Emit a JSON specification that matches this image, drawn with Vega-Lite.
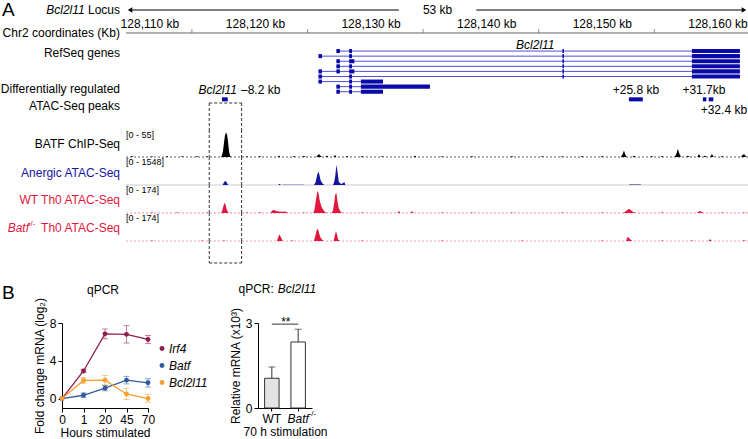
{
"$schema":"https://vega.github.io/schema/vega-lite/v6.json",
"background":"white",
"padding":{"left":0,"top":0,"right":0,"bottom":0},
"config":{
 "font":"Liberation Sans",
 "view":{"stroke":null},
 "axis":{"grid":false,"domainColor":"#000","tickColor":"#000","labelColor":"#000","titleColor":"#000","labelFontSize":12,"titleFontSize":12,"titleFontWeight":"normal","tickSize":4,"labelPadding":2,"domainWidth":1,"tickWidth":1},
 "text":{"fontSize":12,"color":"#000"}
},
"datasets":{
 "ruler_labels":[{"kb":128110,"label":"128,110 kb"},{"kb":128120,"label":"128,120 kb"},{"kb":128130,"label":"128,130 kb"},{"kb":128140,"label":"128,140 kb"},{"kb":128150,"label":"128,150 kb"},{"kb":128160,"label":"128,160 kb"}],
 "ruler_ticks":[{"kb":128114.5},{"kb":128124.5},{"kb":128134.5},{"kb":128144.5},{"kb":128154.5}],
 "transcripts":[
  {"tx":"T1","start":128127.0,"end":128161.9},{"tx":"T2","start":128125.45,"end":128161.9},{"tx":"T3","start":128127.0,"end":128161.9},
  {"tx":"T4","start":128127.0,"end":128161.9},{"tx":"T5","start":128125.45,"end":128161.9},{"tx":"T6","start":128125.45,"end":128161.9},
  {"tx":"T7","start":128125.45,"end":128131.03},{"tx":"T8","start":128127.0,"end":128135.09},{"tx":"T9","start":128127.0,"end":128131.03}],
 "exons":[
  {"tx":"T1","start":128127.0,"end":128127.3},{"tx":"T1","start":128128.1,"end":128128.35},{"tx":"T1","start":128146.55,"end":128146.68},{"tx":"T1","start":128157.75,"end":128161.9},
  {"tx":"T2","start":128125.45,"end":128125.75},{"tx":"T2","start":128128.1,"end":128128.35},{"tx":"T2","start":128146.55,"end":128146.68},{"tx":"T2","start":128157.75,"end":128161.9},
  {"tx":"T3","start":128127.0,"end":128127.3},{"tx":"T3","start":128128.1,"end":128128.55},{"tx":"T3","start":128146.55,"end":128146.68},{"tx":"T3","start":128157.75,"end":128161.9},
  {"tx":"T4","start":128127.0,"end":128127.3},{"tx":"T4","start":128128.1,"end":128128.35},{"tx":"T4","start":128146.55,"end":128146.68},{"tx":"T4","start":128157.75,"end":128161.9},
  {"tx":"T5","start":128125.45,"end":128125.75},{"tx":"T5","start":128127.0,"end":128127.3},{"tx":"T5","start":128128.1,"end":128128.55},{"tx":"T5","start":128146.55,"end":128146.68},{"tx":"T5","start":128157.75,"end":128161.9},
  {"tx":"T6","start":128125.45,"end":128125.75},{"tx":"T6","start":128128.1,"end":128128.35},{"tx":"T6","start":128146.55,"end":128146.68},{"tx":"T6","start":128157.75,"end":128161.9},
  {"tx":"T7","start":128125.45,"end":128125.75},{"tx":"T7","start":128128.1,"end":128128.35},{"tx":"T7","start":128129.12,"end":128131.03},
  {"tx":"T8","start":128127.0,"end":128127.3},{"tx":"T8","start":128128.1,"end":128128.35},{"tx":"T8","start":128129.12,"end":128135.09},
  {"tx":"T9","start":128127.0,"end":128127.3},{"tx":"T9","start":128128.1,"end":128128.35},{"tx":"T9","start":128129.12,"end":128131.03}],
 "peaks":[{"name":"-8.2","start":128117.1,"end":128117.6},{"name":"+25.8","start":128152.3,"end":128153.5},{"name":"+31.7","start":128158.7,"end":128159.0},{"name":"+32.4","start":128159.2,"end":128159.6}],
 "box":[{"start":128116.0,"end":128118.8}],
 "batf_chip":[
  {"kb":128108.8,"v":0},
  {"kb":128109.19,"v":0},{"kb":128109.32,"v":2},{"kb":128109.45,"v":0},
  {"kb":128110.92,"v":0},{"kb":128111.05,"v":1.5},{"kb":128111.18,"v":0},
  {"kb":128112.22,"v":0},{"kb":128112.35,"v":2},{"kb":128112.48,"v":0},
  {"kb":128113.51,"v":0},{"kb":128113.64,"v":1.5},{"kb":128113.77,"v":0},
  {"kb":128114.81,"v":0},{"kb":128114.94,"v":2},{"kb":128115.07,"v":0},
  {"kb":128115.68,"v":0},{"kb":128115.81,"v":1.5},{"kb":128115.94,"v":0},
  {"kb":128117.0,"v":0},{"kb":128117.1,"v":3},{"kb":128117.19,"v":12},{"kb":128117.28,"v":30},{"kb":128117.36,"v":44},{"kb":128117.45,"v":50},{"kb":128117.54,"v":46},{"kb":128117.62,"v":32},{"kb":128117.71,"v":12},{"kb":128117.79,"v":3},{"kb":128117.9,"v":0},
  {"kb":128119.13,"v":0},{"kb":128119.26,"v":1.5},{"kb":128119.39,"v":0},
  {"kb":128120.26,"v":0},{"kb":128120.39,"v":2},{"kb":128120.52,"v":0},
  {"kb":128121.9,"v":0},{"kb":128122.03,"v":3},{"kb":128122.16,"v":0},
  {"kb":128123.2,"v":0},{"kb":128123.33,"v":2},{"kb":128123.46,"v":0},
  {"kb":128124.06,"v":0},{"kb":128124.19,"v":2.5},{"kb":128124.32,"v":0},
  {"kb":128125.25,"v":0},{"kb":128125.4,"v":4},{"kb":128125.49,"v":6},{"kb":128125.6,"v":3},{"kb":128125.75,"v":0},
  {"kb":128126.05,"v":0},{"kb":128126.18,"v":3},{"kb":128126.31,"v":0},
  {"kb":128126.75,"v":0},{"kb":128126.88,"v":4},{"kb":128127.01,"v":0},
  {"kb":128127.78,"v":0},{"kb":128127.91,"v":2},{"kb":128128.04,"v":0},
  {"kb":128129.08,"v":0},{"kb":128129.21,"v":2},{"kb":128129.34,"v":0},
  {"kb":128130.81,"v":0},{"kb":128130.94,"v":1.5},{"kb":128131.07,"v":0},
  {"kb":128133.66,"v":0},{"kb":128133.79,"v":3},{"kb":128133.92,"v":0},
  {"kb":128136.0,"v":0},{"kb":128136.13,"v":1.5},{"kb":128136.26,"v":0},
  {"kb":128138.59,"v":0},{"kb":128138.72,"v":2},{"kb":128138.85,"v":0},
  {"kb":128142.05,"v":0},{"kb":128142.18,"v":2},{"kb":128142.31,"v":0},
  {"kb":128144.65,"v":0},{"kb":128144.78,"v":1.5},{"kb":128144.91,"v":0},
  {"kb":128146.38,"v":0},{"kb":128146.51,"v":1.5},{"kb":128146.64,"v":0},
  {"kb":128148.11,"v":0},{"kb":128148.24,"v":2},{"kb":128148.37,"v":0},
  {"kb":128149.84,"v":0},{"kb":128149.97,"v":2},{"kb":128150.1,"v":0},
  {"kb":128151.6,"v":0},{"kb":128151.75,"v":5},{"kb":128151.87,"v":13},{"kb":128151.97,"v":6},{"kb":128152.1,"v":0},
  {"kb":128152.61,"v":0},{"kb":128152.74,"v":3},{"kb":128152.87,"v":0},
  {"kb":128154.16,"v":0},{"kb":128154.29,"v":2},{"kb":128154.42,"v":0},
  {"kb":128155.03,"v":0},{"kb":128155.16,"v":2},{"kb":128155.29,"v":0},
  {"kb":128156.25,"v":0},{"kb":128156.4,"v":6},{"kb":128156.54,"v":17},{"kb":128156.64,"v":8},{"kb":128156.8,"v":0},
  {"kb":128157.28,"v":0},{"kb":128157.41,"v":3},{"kb":128157.54,"v":0},
  {"kb":128158.21,"v":0},{"kb":128158.36,"v":6},{"kb":128158.51,"v":0},
  {"kb":128158.75,"v":0},{"kb":128158.88,"v":3},{"kb":128159.01,"v":0},
  {"kb":128159.33,"v":0},{"kb":128159.48,"v":6},{"kb":128159.63,"v":0},
  {"kb":128160.22,"v":0},{"kb":128160.35,"v":2},{"kb":128160.48,"v":0},
  {"kb":128162.0,"v":0},{"kb":128162.15,"v":5},{"kb":128162.3,"v":5},{"kb":128162.45,"v":0},
  {"kb":128162.6,"v":0}],
 "anergic":[
  {"kb":128108.8,"v":0},
  {"kb":128117.15,"v":0},{"kb":128117.25,"v":110},{"kb":128117.36,"v":220},{"kb":128117.45,"v":200},{"kb":128117.55,"v":90},{"kb":128117.65,"v":0},
  {"kb":128121.95,"v":0},{"kb":128122.08,"v":70},{"kb":128122.2,"v":0},
  {"kb":128122.3,"v":0},{"kb":128122.35,"v":15},{"kb":128124.2,"v":15},{"kb":128124.25,"v":0},
  {"kb":128125.05,"v":0},{"kb":128125.2,"v":150},{"kb":128125.32,"v":500},{"kb":128125.42,"v":740},{"kb":128125.52,"v":600},{"kb":128125.64,"v":250},{"kb":128125.8,"v":80},{"kb":128125.95,"v":0},
  {"kb":128126.7,"v":0},{"kb":128126.8,"v":150},{"kb":128126.9,"v":500},{"kb":128127.0,"v":1120},{"kb":128127.1,"v":700},{"kb":128127.2,"v":200},{"kb":128127.31,"v":100},{"kb":128127.45,"v":60},{"kb":128127.6,"v":120},{"kb":128127.68,"v":170},{"kb":128127.78,"v":0},
  {"kb":128152.3,"v":0},{"kb":128152.33,"v":30},{"kb":128153.3,"v":30},{"kb":128153.35,"v":0},
  {"kb":128162.6,"v":0}],
 "wt_th0":[
  {"kb":128108.8,"v":0},
  {"kb":128110.92,"v":0},{"kb":128111.05,"v":4},{"kb":128111.18,"v":0},
  {"kb":128113.08,"v":0},{"kb":128113.21,"v":4},{"kb":128113.34,"v":0},
  {"kb":128115.68,"v":0},{"kb":128115.81,"v":3},{"kb":128115.94,"v":0},
  {"kb":128117.0,"v":0},{"kb":128117.1,"v":10},{"kb":128117.2,"v":35},{"kb":128117.3,"v":62},{"kb":128117.4,"v":55},{"kb":128117.5,"v":25},{"kb":128117.6,"v":8},{"kb":128117.7,"v":0},
  {"kb":128119.13,"v":0},{"kb":128119.26,"v":4},{"kb":128119.39,"v":0},
  {"kb":128120.26,"v":0},{"kb":128120.39,"v":4},{"kb":128120.52,"v":0},
  {"kb":128121.3,"v":0},{"kb":128121.45,"v":15},{"kb":128121.6,"v":19},{"kb":128121.8,"v":12},{"kb":128122.0,"v":10},{"kb":128122.3,"v":8},{"kb":128122.6,"v":10},{"kb":128122.8,"v":0},
  {"kb":128124.06,"v":0},{"kb":128124.19,"v":5},{"kb":128124.32,"v":0},
  {"kb":128125.0,"v":0},{"kb":128125.1,"v":20},{"kb":128125.25,"v":90},{"kb":128125.35,"v":137},{"kb":128125.45,"v":125},{"kb":128125.55,"v":80},{"kb":128125.7,"v":40},{"kb":128125.85,"v":20},{"kb":128126.0,"v":8},{"kb":128126.15,"v":0},
  {"kb":128126.6,"v":0},{"kb":128126.7,"v":15},{"kb":128126.8,"v":60},{"kb":128126.9,"v":115},{"kb":128127.0,"v":125},{"kb":128127.1,"v":70},{"kb":128127.2,"v":30},{"kb":128127.35,"v":10},{"kb":128127.5,"v":0},
  {"kb":128129.08,"v":0},{"kb":128129.21,"v":4},{"kb":128129.34,"v":0},
  {"kb":128132.28,"v":0},{"kb":128132.41,"v":12},{"kb":128132.54,"v":0},
  {"kb":128133.41,"v":0},{"kb":128133.54,"v":12},{"kb":128133.67,"v":0},
  {"kb":128136.0,"v":0},{"kb":128136.13,"v":4},{"kb":128136.26,"v":0},
  {"kb":128138.59,"v":0},{"kb":128138.72,"v":4},{"kb":128138.85,"v":0},
  {"kb":128142.05,"v":0},{"kb":128142.18,"v":4},{"kb":128142.31,"v":0},
  {"kb":128146.38,"v":0},{"kb":128146.51,"v":4},{"kb":128146.64,"v":0},
  {"kb":128149.84,"v":0},{"kb":128149.97,"v":5},{"kb":128150.1,"v":0},
  {"kb":128151.8,"v":0},{"kb":128152.0,"v":10},{"kb":128152.2,"v":22},{"kb":128152.35,"v":25},{"kb":128152.5,"v":15},{"kb":128152.7,"v":5},{"kb":128152.9,"v":0},
  {"kb":128155.03,"v":0},{"kb":128155.16,"v":4},{"kb":128155.29,"v":0},
  {"kb":128158.2,"v":0},{"kb":128158.35,"v":10},{"kb":128158.45,"v":12},{"kb":128158.6,"v":6},{"kb":128158.75,"v":0},
  {"kb":128160.22,"v":0},{"kb":128160.35,"v":4},{"kb":128160.48,"v":0},
  {"kb":128162.12,"v":0},{"kb":128162.25,"v":4},{"kb":128162.38,"v":0},
  {"kb":128162.6,"v":0}],
 "ko_th0":[
  {"kb":128108.8,"v":0},
  {"kb":128110.92,"v":0},{"kb":128111.05,"v":5},{"kb":128111.18,"v":0},
  {"kb":128115.24,"v":0},{"kb":128115.37,"v":4},{"kb":128115.5,"v":0},
  {"kb":128117.15,"v":0},{"kb":128117.28,"v":5},{"kb":128117.41,"v":0},
  {"kb":128121.85,"v":0},{"kb":128121.95,"v":20},{"kb":128122.05,"v":40},{"kb":128122.15,"v":30},{"kb":128122.25,"v":15},{"kb":128122.35,"v":0},
  {"kb":128123.03,"v":0},{"kb":128123.16,"v":5},{"kb":128123.29,"v":0},
  {"kb":128125.05,"v":0},{"kb":128125.15,"v":25},{"kb":128125.3,"v":70},{"kb":128125.4,"v":75},{"kb":128125.5,"v":50},{"kb":128125.6,"v":25},{"kb":128125.75,"v":10},{"kb":128125.9,"v":0},
  {"kb":128126.75,"v":0},{"kb":128126.85,"v":30},{"kb":128126.96,"v":62},{"kb":128127.05,"v":40},{"kb":128127.15,"v":10},{"kb":128127.3,"v":0},
  {"kb":128129.08,"v":0},{"kb":128129.21,"v":4},{"kb":128129.34,"v":0},
  {"kb":128136.0,"v":0},{"kb":128136.13,"v":4},{"kb":128136.26,"v":0},
  {"kb":128142.92,"v":0},{"kb":128143.05,"v":4},{"kb":128143.18,"v":0},
  {"kb":128149.84,"v":0},{"kb":128149.97,"v":4},{"kb":128150.1,"v":0},
  {"kb":128152.05,"v":0},{"kb":128152.15,"v":20},{"kb":128152.22,"v":25},{"kb":128152.35,"v":15},{"kb":128152.5,"v":5},{"kb":128152.6,"v":0},
  {"kb":128155.03,"v":0},{"kb":128155.16,"v":5},{"kb":128155.29,"v":0},
  {"kb":128157.62,"v":0},{"kb":128157.75,"v":4},{"kb":128157.88,"v":0},
  {"kb":128159.18,"v":0},{"kb":128159.31,"v":12},{"kb":128159.44,"v":0},
  {"kb":128162.12,"v":0},{"kb":128162.25,"v":6},{"kb":128162.38,"v":0},
  {"kb":128162.6,"v":0}],
 "qpcr":[
  {"gene":"Irf4","hours":0,"mean":0,"low":0,"high":0},{"gene":"Irf4","hours":1,"mean":2.92,"low":2.75,"high":3.1},{"gene":"Irf4","hours":20,"mean":6.85,"low":6.33,"high":7.37},{"gene":"Irf4","hours":45,"mean":6.8,"low":5.88,"high":7.72},{"gene":"Irf4","hours":70,"mean":6.26,"low":5.82,"high":6.68},
  {"gene":"Batf","hours":0,"mean":0,"low":0,"high":0},{"gene":"Batf","hours":1,"mean":0.35,"low":0.1,"high":0.6},{"gene":"Batf","hours":20,"mean":1.1,"low":0.82,"high":1.38},{"gene":"Batf","hours":45,"mean":1.95,"low":1.55,"high":2.35},{"gene":"Batf","hours":70,"mean":1.67,"low":1.22,"high":2.1},
  {"gene":"Bcl2l11","hours":0,"mean":0,"low":0,"high":0},{"gene":"Bcl2l11","hours":1,"mean":1.91,"low":1.6,"high":2.22},{"gene":"Bcl2l11","hours":20,"mean":1.95,"low":1.46,"high":2.44},{"gene":"Bcl2l11","hours":45,"mean":0.49,"low":-0.1,"high":1.08},{"gene":"Bcl2l11","hours":70,"mean":0.0,"low":-0.38,"high":0.42}],
 "bars":[{"genotype":"WT","mean":1.05,"upper":1.45},{"genotype":"Batf-/-","mean":2.33,"upper":2.78}]
},
"spacing":19,
"vconcat":[
 {"spacing":0,"bounds":"flush","vconcat":[
  {"width":686,"height":43,"layer":[
   {"data":{"values":[{}]},"mark":{"type":"rule","color":"#000","strokeWidth":1},"encoding":{"x":{"datum":128109.3,"type":"quantitative","scale":{"domain":[128108.8,128162.6],"range":[64,686],"nice":false,"zero":false},"axis":null},"x2":{"datum":128132.4},"y":{"datum":"locus","type":"nominal","scale":{"type":"point","domain":["locus","ruler"],"padding":0.4348},"axis":null}}},
   {"data":{"values":[{}]},"mark":{"type":"rule","color":"#000","strokeWidth":1},"encoding":{"x":{"datum":128139.1,"type":"quantitative","axis":null},"x2":{"datum":128162.1},"y":{"datum":"locus","type":"nominal","axis":null}}},
   {"data":{"values":[{}]},"mark":{"type":"point","shape":"triangle-left","filled":true,"color":"#000","size":28,"opacity":1},"encoding":{"x":{"datum":128109.15,"type":"quantitative","axis":null},"y":{"datum":"locus","type":"nominal","axis":null}}},
   {"data":{"values":[{}]},"mark":{"type":"point","shape":"triangle-right","filled":true,"color":"#000","size":28,"opacity":1},"encoding":{"x":{"datum":128162.25,"type":"quantitative","axis":null},"y":{"datum":"locus","type":"nominal","axis":null}}},
   {"data":{"values":[{}]},"mark":{"type":"text","text":"53 kb","baseline":"middle"},"encoding":{"x":{"datum":128135.75,"type":"quantitative","axis":null},"y":{"datum":"locus","type":"nominal","axis":null}}},
   {"data":{"values":[{}]},"mark":{"type":"rule","color":"#666"},"encoding":{"x":{"datum":128108.8,"type":"quantitative","axis":null},"x2":{"datum":128162.6},"y":{"datum":"ruler","type":"nominal","axis":null}}},
   {"data":{"name":"ruler_ticks"},"mark":{"type":"tick","size":4,"thickness":1,"color":"#666","yOffset":-2},"encoding":{"x":{"field":"kb","type":"quantitative","axis":null},"y":{"datum":"ruler","type":"nominal","axis":null}}},
   {"data":{"name":"ruler_labels"},"transform":[{"filter":"datum.kb > 128110"}],"mark":{"type":"text","dy":-9,"baseline":"middle"},"encoding":{"x":{"field":"kb","type":"quantitative","axis":null},"y":{"datum":"ruler","type":"nominal","axis":null},"text":{"field":"label"}}},
   {"data":{"name":"ruler_labels"},"transform":[{"filter":"datum.kb == 128110"}],"mark":{"type":"text","dy":-9,"dx":10,"baseline":"middle"},"encoding":{"x":{"field":"kb","type":"quantitative","axis":null},"y":{"datum":"ruler","type":"nominal","axis":null},"text":{"field":"label"}}},
   {"data":{"values":[{}]},"mark":{"type":"text","text":"A","fontSize":19,"align":"left","baseline":"middle","dx":-124},"encoding":{"x":{"datum":128108.8,"type":"quantitative","axis":null},"y":{"datum":"locus","type":"nominal","axis":null}}},
   {"data":{"values":[{}]},"mark":{"type":"text","text":"Bcl2l11","fontStyle":"italic","align":"right","baseline":"middle","dx":-41.3},"encoding":{"x":{"datum":128108.8,"type":"quantitative","axis":null},"y":{"datum":"locus","type":"nominal","axis":null}}},
   {"data":{"values":[{}]},"mark":{"type":"text","text":"Locus","align":"right","baseline":"middle","dx":-6},"encoding":{"x":{"datum":128108.8,"type":"quantitative","axis":null},"y":{"datum":"locus","type":"nominal","axis":null}}},
   {"data":{"values":[{}]},"mark":{"type":"text","text":"Chr2 coordinates (Kb)","align":"right","baseline":"middle","dx":-6},"encoding":{"x":{"datum":128108.8,"type":"quantitative","axis":null},"y":{"datum":"ruler","type":"nominal","axis":null}}}
  ]},
  {"width":686,"height":60,"layer":[
   {"data":{"name":"transcripts"},"mark":{"type":"rule","color":"#3a3ad6","strokeWidth":0.9},"encoding":{"x":{"field":"start","type":"quantitative","scale":{"domain":[128108.8,128162.6],"range":[64,686],"nice":false,"zero":false},"axis":null},"x2":{"field":"end"},"y":{"field":"tx","type":"nominal","bandPosition":0.5,"scale":{"type":"band","domain":["T1","T2","T3","T4","T5","T6","T7","T8","T9","Peaks"],"paddingInner":0.2,"paddingOuter":1.843,"align":0.593},"axis":null}}},
   {"data":{"name":"exons"},"mark":{"type":"rect","color":"#0a0aa8"},"encoding":{"x":{"field":"start","type":"quantitative","axis":null},"x2":{"field":"end"},"y":{"field":"tx","type":"nominal","axis":null}}},
   {"data":{"name":"peaks"},"mark":{"type":"rect","color":"#0a0aa8","yOffset":2.5,"y2Offset":2.5},"encoding":{"x":{"field":"start","type":"quantitative","axis":null},"x2":{"field":"end"},"y":{"datum":"Peaks","type":"nominal","axis":null}}},
   {"data":{"name":"peaks"},"transform":[{"filter":"datum.name == '-8.2'"}],"mark":{"type":"text","text":"Bcl2l11","fontStyle":"italic","align":"right","baseline":"middle","dx":15,"dy":-6.5},"encoding":{"x":{"field":"start","type":"quantitative","axis":null},"y":{"datum":"Peaks","type":"nominal","bandPosition":0.5,"axis":null}}},
   {"data":{"name":"peaks"},"transform":[{"filter":"datum.name == '-8.2'"}],"mark":{"type":"text","text":"–8.2 kb","align":"left","baseline":"middle","dx":19,"dy":-6.5},"encoding":{"x":{"field":"start","type":"quantitative","axis":null},"y":{"datum":"Peaks","type":"nominal","bandPosition":0.5,"axis":null}}},
   {"data":{"name":"peaks"},"transform":[{"filter":"datum.name == '+25.8'"}],"mark":{"type":"text","text":"+25.8 kb","align":"center","baseline":"middle","dx":7,"dy":-6.5},"encoding":{"x":{"field":"start","type":"quantitative","axis":null},"y":{"datum":"Peaks","type":"nominal","bandPosition":0.5,"axis":null}}},
   {"data":{"name":"peaks"},"transform":[{"filter":"datum.name == '+31.7'"}],"mark":{"type":"text","text":"+31.7kb","align":"center","baseline":"middle","dx":1,"dy":-6.5},"encoding":{"x":{"field":"start","type":"quantitative","axis":null},"y":{"datum":"Peaks","type":"nominal","bandPosition":0.5,"axis":null}}},
   {"data":{"name":"peaks"},"transform":[{"filter":"datum.name == '+32.4'"}],"mark":{"type":"text","text":"+32.4 kb","align":"left","baseline":"middle","dx":-8,"dy":13.5},"encoding":{"x":{"field":"start","type":"quantitative","axis":null},"y":{"datum":"Peaks","type":"nominal","bandPosition":0.5,"axis":null}}},
   {"data":{"values":[{}]},"mark":{"type":"text","text":"Bcl2l11","fontStyle":"italic","baseline":"middle","dy":-6.5},"encoding":{"x":{"datum":128144.2,"type":"quantitative","axis":null},"y":{"datum":"T1","type":"nominal","bandPosition":0.5,"axis":null}}},
   {"data":{"values":[{}]},"mark":{"type":"text","text":"RefSeq genes","align":"right","baseline":"middle","dx":-6,"dy":1.5},"encoding":{"x":{"datum":128108.8,"type":"quantitative","axis":null},"y":{"datum":"T1","type":"nominal","bandPosition":0.5,"axis":null}}},
   {"data":{"values":[{}]},"mark":{"type":"text","text":["Differentially regulated","ATAC-Seq peaks"],"lineHeight":17,"align":"right","baseline":"middle","dx":-6,"dy":-8},"encoding":{"x":{"datum":128108.8,"type":"quantitative","axis":null},"y":{"datum":"Peaks","type":"nominal","bandPosition":0.5,"axis":null}}}
  ]},
  {"width":686,"height":27,"data":{"name":"box"},"layer":[
   {"mark":{"type":"rule","color":"#333","strokeDash":[3,2]},"encoding":{"x":{"field":"start","type":"quantitative","scale":{"domain":[128108.8,128162.6],"range":[64,686],"nice":false,"zero":false},"axis":null}}},
   {"mark":{"type":"rule","color":"#333","strokeDash":[3,2]},"encoding":{"x":{"field":"end","type":"quantitative","axis":null}}},
   {"mark":{"type":"rule","color":"#333","strokeDash":[3,2]},"encoding":{"x":{"field":"start","type":"quantitative","axis":null},"x2":{"field":"end"},"y":{"datum":1,"type":"quantitative","scale":{"domain":[0,1]},"axis":null}}}
  ]},
  {"width":686,"height":27,"layer":[
   {"data":{"values":[{}]},"mark":{"type":"rule","color":"#333","strokeDash":[2,2],"opacity":0.8},"encoding":{"x":{"datum":128108.8,"type":"quantitative","scale":{"domain":[128108.8,128162.6],"range":[64,686],"nice":false,"zero":false},"axis":null},"x2":{"datum":128162.6},"y":{"datum":0,"type":"quantitative","scale":{"domain":[0,55],"nice":false},"axis":null}}},
   {"data":{"name":"batf_chip"},"mark":{"type":"area","color":"#000","interpolate":"linear"},"encoding":{"x":{"field":"kb","type":"quantitative","axis":null},"y":{"field":"v","type":"quantitative","axis":null}}},
   {"data":{"name":"box"},"mark":{"type":"rule","color":"#333","strokeDash":[3,2]},"encoding":{"x":{"field":"start","type":"quantitative","axis":null}}},
   {"data":{"name":"box"},"mark":{"type":"rule","color":"#333","strokeDash":[3,2]},"encoding":{"x":{"field":"end","type":"quantitative","axis":null}}},
   {"data":{"values":[{}]},"mark":{"type":"text","text":"[0 - 55]","color":"#000","align":"left","baseline":"middle","fontSize":9,"dy":5},"encoding":{"x":{"datum":128108.8,"type":"quantitative","axis":null},"y":{"datum":55,"type":"quantitative","axis":null}}},
   {"data":{"values":[{}]},"mark":{"type":"text","text":"BATF ChIP-Seq","color":"#000","align":"right","baseline":"middle","dx":-6,"dy":0.5},"encoding":{"x":{"datum":128108.8,"type":"quantitative","axis":null}}}
  ]},
  {"width":686,"height":28,"layer":[
   {"data":{"values":[{}]},"mark":{"type":"rule","color":"#cccccc"},"encoding":{"x":{"datum":128108.8,"type":"quantitative","scale":{"domain":[128108.8,128162.6],"range":[64,686],"nice":false,"zero":false},"axis":null},"x2":{"datum":128162.6},"y":{"datum":0,"type":"quantitative","scale":{"domain":[0,1548],"nice":false},"axis":null}}},
   {"data":{"name":"anergic"},"mark":{"type":"area","color":"#14149e","interpolate":"linear"},"encoding":{"x":{"field":"kb","type":"quantitative","axis":null},"y":{"field":"v","type":"quantitative","axis":null}}},
   {"data":{"name":"box"},"mark":{"type":"rule","color":"#333","strokeDash":[3,2]},"encoding":{"x":{"field":"start","type":"quantitative","axis":null}}},
   {"data":{"name":"box"},"mark":{"type":"rule","color":"#333","strokeDash":[3,2]},"encoding":{"x":{"field":"end","type":"quantitative","axis":null}}},
   {"data":{"values":[{}]},"mark":{"type":"text","text":"[0 - 1548]","color":"#000","align":"left","baseline":"middle","fontSize":9,"dy":5},"encoding":{"x":{"datum":128108.8,"type":"quantitative","axis":null},"y":{"datum":1548,"type":"quantitative","axis":null}}},
   {"data":{"values":[{}]},"mark":{"type":"text","text":"Anergic ATAC-Seq","color":"#14149e","align":"right","baseline":"middle","dx":-6,"dy":2},"encoding":{"x":{"datum":128108.8,"type":"quantitative","axis":null}}}
  ]},
  {"width":686,"height":28,"layer":[
   {"data":{"values":[{}]},"mark":{"type":"rule","color":"#e3173e","strokeDash":[2,2],"opacity":0.5},"encoding":{"x":{"datum":128108.8,"type":"quantitative","scale":{"domain":[128108.8,128162.6],"range":[64,686],"nice":false,"zero":false},"axis":null},"x2":{"datum":128162.6},"y":{"datum":0,"type":"quantitative","scale":{"domain":[0,174],"nice":false},"axis":null}}},
   {"data":{"name":"wt_th0"},"mark":{"type":"area","color":"#e3173e","interpolate":"linear"},"encoding":{"x":{"field":"kb","type":"quantitative","axis":null},"y":{"field":"v","type":"quantitative","axis":null}}},
   {"data":{"name":"box"},"mark":{"type":"rule","color":"#333","strokeDash":[3,2]},"encoding":{"x":{"field":"start","type":"quantitative","axis":null}}},
   {"data":{"name":"box"},"mark":{"type":"rule","color":"#333","strokeDash":[3,2]},"encoding":{"x":{"field":"end","type":"quantitative","axis":null}}},
   {"data":{"values":[{}]},"mark":{"type":"text","text":"[0 - 174]","color":"#000","align":"left","baseline":"middle","fontSize":9,"dy":5},"encoding":{"x":{"datum":128108.8,"type":"quantitative","axis":null},"y":{"datum":174,"type":"quantitative","axis":null}}},
   {"data":{"values":[{}]},"mark":{"type":"text","text":"WT Th0 ATAC-Seq","color":"#e3173e","align":"right","baseline":"middle","dx":-6,"dy":1},"encoding":{"x":{"datum":128108.8,"type":"quantitative","axis":null}}}
  ]},
  {"width":686,"height":28,"layer":[
   {"data":{"values":[{}]},"mark":{"type":"rule","color":"#e3173e","strokeDash":[2,2],"opacity":0.4},"encoding":{"x":{"datum":128108.8,"type":"quantitative","scale":{"domain":[128108.8,128162.6],"range":[64,686],"nice":false,"zero":false},"axis":null},"x2":{"datum":128162.6},"y":{"datum":0,"type":"quantitative","scale":{"domain":[0,174],"nice":false},"axis":null}}},
   {"data":{"name":"ko_th0"},"mark":{"type":"area","color":"#e3173e","interpolate":"linear"},"encoding":{"x":{"field":"kb","type":"quantitative","axis":null},"y":{"field":"v","type":"quantitative","axis":null}}},
   {"data":{"name":"box"},"mark":{"type":"rule","color":"#333","strokeDash":[3,2]},"encoding":{"x":{"field":"start","type":"quantitative","axis":null}}},
   {"data":{"name":"box"},"mark":{"type":"rule","color":"#333","strokeDash":[3,2]},"encoding":{"x":{"field":"end","type":"quantitative","axis":null}}},
   {"data":{"values":[{}]},"mark":{"type":"text","text":"[0 - 174]","color":"#000","align":"left","baseline":"middle","fontSize":9,"dy":5},"encoding":{"x":{"datum":128108.8,"type":"quantitative","axis":null},"y":{"datum":174,"type":"quantitative","axis":null}}},
   {"data":{"values":[{}]},"mark":{"type":"text","text":"Th0 ATAC-Seq","color":"#e3173e","align":"right","baseline":"middle","dx":-6,"dy":1},"encoding":{"x":{"datum":128108.8,"type":"quantitative","axis":null}}},
   {"data":{"values":[{}]},"mark":{"type":"text","text":"-/-","fontSize":8,"color":"#e3173e","align":"right","baseline":"middle","dx":-90.5,"dy":-3},"encoding":{"x":{"datum":128108.8,"type":"quantitative","axis":null}}},
   {"data":{"values":[{}]},"mark":{"type":"text","text":"Batf","fontStyle":"italic","color":"#e3173e","align":"right","baseline":"middle","dx":-97,"dy":1},"encoding":{"x":{"datum":128108.8,"type":"quantitative","axis":null}}}
  ]},
  {"width":686,"height":22,"data":{"name":"box"},"layer":[
   {"mark":{"type":"rule","color":"#333","strokeDash":[3,2]},"encoding":{"x":{"field":"start","type":"quantitative","scale":{"domain":[128108.8,128162.6],"range":[64,686],"nice":false,"zero":false},"axis":null}}},
   {"mark":{"type":"rule","color":"#333","strokeDash":[3,2]},"encoding":{"x":{"field":"end","type":"quantitative","axis":null}}},
   {"mark":{"type":"rule","color":"#333","strokeDash":[3,2]},"encoding":{"x":{"field":"start","type":"quantitative","axis":null},"x2":{"field":"end"},"y":{"datum":0,"type":"quantitative","scale":{"domain":[0,1]},"axis":null}}}
  ]}
 ]},
 {"spacing":21,
  "resolve":{"scale":{"fill":"independent","color":"independent"},"legend":{"fill":"independent","color":"independent"}},
  "hconcat":[
  {"width":86,"height":85,"data":{"name":"qpcr"},
   "resolve":{"scale":{"y":"independent"},"axis":{"y":"independent"}},
   "layer":[
    {"layer":[
     {"transform":[{"filter":"datum.hours > 0"}],"mark":{"type":"rule","strokeWidth":1,"opacity":0.55},"encoding":{
       "x":{"field":"hours","type":"ordinal","scale":{"type":"point","padding":0},"axis":{"title":"Hours stimulated","labelAngle":0,"titlePadding":2}},
       "y":{"field":"low","type":"quantitative","scale":{"domain":[-1,8],"nice":false,"zero":false},"axis":{"title":"Fold change mRNA (log₂)","values":[0,2,4,6,8],"titlePadding":3}},
       "y2":{"field":"high"},
       "color":{"field":"gene","type":"nominal","scale":{"domain":["Irf4","Batf","Bcl2l11"],"range":["#8e1f4f","#2f5c9c","#f3a02e"]},"legend":null}}},
     {"transform":[{"filter":"datum.hours > 0"}],"mark":{"type":"tick","size":6,"thickness":1,"opacity":0.55},"encoding":{"x":{"field":"hours","type":"ordinal"},"y":{"field":"low","type":"quantitative"},"color":{"field":"gene","type":"nominal","legend":null}}},
     {"transform":[{"filter":"datum.hours > 0"}],"mark":{"type":"tick","size":6,"thickness":1,"opacity":0.55},"encoding":{"x":{"field":"hours","type":"ordinal"},"y":{"field":"high","type":"quantitative"},"color":{"field":"gene","type":"nominal","legend":null}}},
     {"mark":{"type":"line","strokeWidth":1.3},"encoding":{"x":{"field":"hours","type":"ordinal"},"y":{"field":"mean","type":"quantitative"},"color":{"field":"gene","type":"nominal","legend":null}}},
     {"mark":{"type":"point","filled":true,"size":24,"opacity":1,"strokeWidth":0},"encoding":{"x":{"field":"hours","type":"ordinal"},"y":{"field":"mean","type":"quantitative"},"color":{"field":"gene","type":"nominal","legend":null}}},
     {"data":{"values":[{}]},"mark":{"type":"text","text":"B","fontSize":19,"align":"left","baseline":"middle","dx":-60,"dy":-30,"color":"#000"},"encoding":{"x":{"datum":0,"type":"ordinal"},"y":{"datum":8,"type":"quantitative"}}},
     {"data":{"values":[{}]},"mark":{"type":"text","text":"qPCR","baseline":"middle","dx":-2,"dy":-33,"color":"#000"},"encoding":{"x":{"datum":20,"type":"ordinal"},"y":{"datum":8,"type":"quantitative"}}}
    ]},
    {"transform":[{"filter":"datum.hours == 0"}],
     "encoding":{"x":{"datum":70,"type":"ordinal"},"y":{"field":"gene","type":"nominal","bandPosition":0.5,"scale":{"type":"band","domain":["Irf4","Batf","Bcl2l11"],"paddingInner":0,"paddingOuter":1.333},"axis":null}},
     "layer":[
      {"mark":{"type":"point","filled":true,"size":24,"opacity":1,"strokeWidth":0,"xOffset":14},"encoding":{"color":{"field":"gene","type":"nominal","legend":null}}},
      {"mark":{"type":"text","align":"left","baseline":"middle","dx":21,"fontStyle":"italic","color":"#000"},"encoding":{"text":{"field":"gene"}}}
     ]}
   ]},
  {"width":54,"height":85,"layer":[
   {"data":{"name":"bars"},"mark":{"type":"bar","stroke":"#333","strokeWidth":1},"encoding":{
     "x":{"field":"genotype","type":"nominal","scale":{"domain":["WT","Batf-/-"],"paddingInner":0.45,"paddingOuter":0.25},"axis":{"title":"70 h stimulation","labelAngle":0,"titlePadding":2,"tickSize":3,"labelExpr":"datum.value == 'Batf-/-' ? 'Batf' : datum.value","labelFontStyle":{"condition":{"test":"datum.value == 'Batf-/-'","value":"italic"},"value":"normal"}}},
     "y":{"field":"mean","type":"quantitative","scale":{"domain":[0,3],"nice":false},"axis":{"title":"Relative mRNA (x10³)","values":[0,1,2,3],"titlePadding":3}},
     "fill":{"field":"genotype","type":"nominal","scale":{"domain":["WT","Batf-/-"],"range":["#e3e3e3","#ffffff"]},"legend":null}}},
   {"data":{"name":"bars"},"mark":{"type":"rule","color":"#333"},"encoding":{"x":{"field":"genotype","type":"nominal","bandPosition":0.5},"y":{"field":"mean","type":"quantitative"},"y2":{"field":"upper"}}},
   {"data":{"name":"bars"},"mark":{"type":"tick","color":"#333","size":7,"thickness":1},"encoding":{"x":{"field":"genotype","type":"nominal","bandPosition":0.5},"y":{"field":"upper","type":"quantitative"}}},
   {"data":{"values":[{}]},"mark":{"type":"rule","color":"#333"},"encoding":{"x":{"datum":"WT","type":"nominal","bandPosition":0.5},"x2":{"datum":"Batf-/-"},"y":{"datum":2.96,"type":"quantitative"}}},
   {"data":{"values":[{}]},"mark":{"type":"text","text":"**","baseline":"alphabetic","dx":14,"dy":2},"encoding":{"x":{"datum":"WT","type":"nominal","bandPosition":0.5},"y":{"datum":2.96,"type":"quantitative"}}},
   {"data":{"values":[{}]},"mark":{"type":"text","text":"qPCR:","align":"right","baseline":"middle","dx":2,"dy":-34},"encoding":{"x":{"datum":"WT","type":"nominal","bandPosition":0.5},"y":{"datum":3,"type":"quantitative"}}},
   {"data":{"values":[{}]},"mark":{"type":"text","text":"Bcl2l11","fontStyle":"italic","align":"left","baseline":"middle","dx":6,"dy":-34},"encoding":{"x":{"datum":"WT","type":"nominal","bandPosition":0.5},"y":{"datum":3,"type":"quantitative"}}},
   {"data":{"values":[{}]},"mark":{"type":"text","text":"-/-","fontSize":8,"align":"left","baseline":"middle","dx":10.5,"dy":6},"encoding":{"x":{"datum":"Batf-/-","type":"nominal","bandPosition":0.5},"y":{"datum":0,"type":"quantitative"}}}
  ]}
 ]}
]
}
